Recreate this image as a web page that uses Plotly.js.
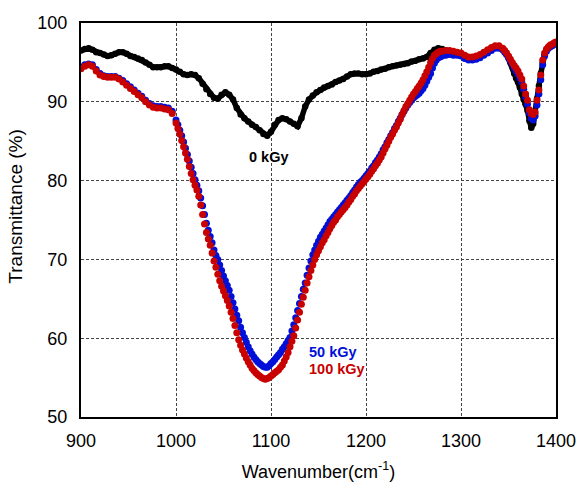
<!DOCTYPE html>
<html>
<head>
<meta charset="utf-8">
<script src="https://cdn.plot.ly/plotly-3.0.1.min.js"></script>
<style>
  html, body { margin: 0; padding: 0; background: #fff; }
  #chart { width: 578px; height: 482px; }
</style>
</head>
<body>
<div id="chart"></div>
<script>
// ---- Data: [wavenumber (cm-1), transmittance (%)] ----
const kGy0 = [
  [900,96.5],[904,96.7],[908,96.8],[912,96.6],[916,96.3],[920,96.2],[924,96.0],[928,95.8],
  [932,95.9],[936,96.1],[940,96.3],[944,96.3],[948,96.1],[952,95.8],[956,95.7],[960,95.5],
  [964,95.3],[968,95.0],[972,94.7],[976,94.4],[980,94.4],[984,94.4],[988,94.5],[992,94.5],
  [996,94.3],[1000,94.1],[1004,93.8],[1008,93.5],[1012,93.4],[1016,93.5],[1020,93.4],[1024,93.0],
  [1028,92.3],[1032,91.6],[1036,91.0],[1040,90.5],[1044,90.4],[1048,90.9],[1052,91.2],[1056,90.9],
  [1060,90.3],[1064,89.2],[1068,88.4],[1072,87.9],[1076,87.5],[1080,87.1],[1084,86.8],[1088,86.4],
  [1092,85.9],[1096,85.7],[1100,86.2],[1104,87.1],[1108,87.7],[1112,87.9],[1116,87.8],[1120,87.5],
  [1124,87.2],[1128,86.9],[1132,87.9],[1136,89.4],[1140,90.3],[1144,90.8],[1148,91.2],[1152,91.5],
  [1156,91.8],[1160,92.0],[1164,92.2],[1168,92.5],[1172,92.7],[1176,92.9],[1180,93.2],[1184,93.5],
  [1188,93.6],[1192,93.6],[1196,93.5],[1200,93.5],[1204,93.6],[1208,93.8],[1212,93.9],[1216,94.1],
  [1220,94.2],[1224,94.4],[1228,94.5],[1232,94.6],[1236,94.7],[1240,94.8],[1244,94.9],[1248,95.1],
  [1252,95.2],[1256,95.4],[1260,95.5],[1264,95.7],[1268,96.2],[1272,96.6],[1276,96.8],[1280,96.7],
  [1284,96.5],[1288,96.4],[1292,96.3],[1296,96.2],[1300,96.1],[1304,95.8],[1308,95.6],[1312,95.6],
  [1316,95.7],[1320,95.9],[1324,96.2],[1328,96.5],[1332,96.7],[1336,96.9],[1340,96.9],[1344,96.6],
  [1348,96.0],[1352,95.0],[1356,93.6],[1358,93.0],[1360,92.5],[1362,91.8],[1364,91.0],[1366,90.3],
  [1368,89.7],[1370,88.9],[1372,87.6],[1374,86.7],[1376,87.2],[1378,88.5],[1380,90.4],[1382,92.0],
  [1384,93.6],[1386,95.0],[1388,96.0],[1390,96.6],[1392,96.9],[1394,97.1],[1396,97.2],[1398,97.3],
  [1400,97.4]
];

const kGy50 = [
  [900,94.4],[904,94.7],[908,94.8],[912,94.7],[916,94.1],[920,93.6],[924,93.3],[928,93.2],
  [932,93.2],[936,93.2],[940,93.0],[944,92.7],[948,92.3],[952,91.9],[956,91.5],[960,91.1],
  [964,90.7],[968,90.2],[972,89.8],[976,89.5],[980,89.4],[984,89.4],[988,89.3],[992,89.2],
  [996,88.8],[1000,87.7],[1002,87.1],[1004,86.4],[1006,85.7],[1008,84.9],[1010,84.1],[1012,83.3],
  [1014,82.5],[1016,81.7],[1018,80.9],[1020,80.1],[1022,79.4],[1024,78.7],[1026,77.8],[1028,76.8],
  [1030,75.7],[1032,74.6],[1034,73.7],[1036,72.9],[1038,72.1],[1040,71.2],[1042,70.5],[1044,70.0],
  [1046,69.3],[1048,68.6],[1050,67.9],[1052,67.3],[1054,66.7],[1056,66.1],[1058,65.3],[1060,64.5],
  [1062,63.7],[1064,62.9],[1066,62.2],[1068,61.4],[1070,60.7],[1072,60.1],[1074,59.5],[1076,58.9],
  [1078,58.4],[1080,58.0],[1082,57.6],[1084,57.3],[1086,57.0],[1088,56.8],[1090,56.6],[1092,56.4],
  [1094,56.3],[1096,56.3],[1098,56.5],[1100,56.8],[1102,57.0],[1104,57.3],[1106,57.6],[1108,57.9],
  [1110,58.2],[1112,58.6],[1114,58.9],[1116,59.3],[1118,59.7],[1120,60.1],[1122,60.9],[1124,61.7],
  [1126,62.6],[1128,63.5],[1130,64.4],[1132,65.3],[1134,66.2],[1136,67.0],[1138,68.0],[1140,68.9],
  [1142,69.8],[1144,70.6],[1146,71.2],[1148,71.8],[1150,72.3],[1152,72.8],[1154,73.2],[1156,73.6],
  [1158,74.0],[1160,74.4],[1162,74.8],[1164,75.1],[1166,75.4],[1168,75.7],[1170,76.0],[1172,76.3],
  [1174,76.6],[1176,76.9],[1178,77.2],[1180,77.5],[1182,77.8],[1184,78.1],[1186,78.5],[1188,78.8],
  [1190,79.2],[1192,79.5],[1194,79.8],[1196,80.0],[1198,80.3],[1200,80.6],[1202,80.9],[1204,81.2],
  [1206,81.6],[1208,81.9],[1210,82.3],[1212,82.6],[1214,83.0],[1216,83.4],[1218,83.9],[1220,84.3],
  [1222,84.8],[1224,85.2],[1226,85.7],[1228,86.1],[1230,86.6],[1232,87.0],[1234,87.5],[1236,87.9],
  [1238,88.4],[1240,88.8],[1242,89.2],[1244,89.6],[1246,89.9],[1248,90.2],[1250,90.5],[1252,90.7],
  [1254,90.9],[1256,91.1],[1258,91.4],[1260,91.7],[1262,92.1],[1264,92.6],[1266,93.1],[1268,93.6],
  [1270,94.3],[1272,94.9],[1274,95.3],[1276,95.6],[1278,95.7],[1280,95.8],[1284,95.9],[1288,96.0],
  [1292,95.9],[1296,95.9],[1300,95.8],[1304,95.5],[1308,95.3],[1312,95.3],[1316,95.4],[1320,95.6],
  [1324,95.9],[1328,96.2],[1332,96.5],[1336,96.8],[1340,96.8],[1344,96.6],[1346,96.3],[1348,96.0],
  [1350,95.6],[1352,95.2],[1354,94.8],[1356,94.3],[1358,93.9],[1360,93.5],[1362,93.0],[1364,92.5],
  [1366,91.6],[1368,90.6],[1370,89.7],[1372,88.6],[1374,87.9],[1376,87.7],[1378,88.2],[1380,89.6],
  [1382,91.0],[1384,92.8],[1386,94.7],[1388,95.8],[1390,96.4],[1392,96.8],[1394,97.0],[1396,97.1],
  [1398,97.3],[1400,97.4]
];

const kGy100 = [
  [900,94.2],[904,94.5],[908,94.7],[912,94.5],[916,93.9],[920,93.4],[924,93.2],[928,93.1],
  [932,93.1],[936,93.1],[940,92.9],[944,92.5],[948,92.1],[952,91.7],[956,91.3],[960,90.9],
  [964,90.5],[968,90.0],[972,89.6],[976,89.3],[980,89.2],[984,89.2],[988,89.1],[992,89.0],
  [996,88.5],[1000,87.3],[1002,86.6],[1004,85.9],[1006,85.1],[1008,84.3],[1010,83.5],[1012,82.7],
  [1014,81.8],[1016,80.9],[1018,80.1],[1020,79.4],[1022,78.8],[1024,78.0],[1026,76.9],[1028,75.7],
  [1030,74.5],[1032,73.4],[1034,72.6],[1036,71.8],[1038,70.8],[1040,69.8],[1042,69.0],[1044,68.1],
  [1046,67.3],[1048,66.6],[1050,66.0],[1052,65.4],[1054,64.8],[1056,64.1],[1058,63.3],[1060,62.5],
  [1062,61.6],[1064,60.7],[1066,59.8],[1068,59.1],[1070,58.5],[1072,58.0],[1074,57.5],[1076,57.0],
  [1078,56.6],[1080,56.2],[1082,55.9],[1084,55.6],[1086,55.4],[1088,55.2],[1090,55.0],[1092,54.9],
  [1094,54.8],[1096,54.9],[1098,55.0],[1100,55.2],[1102,55.4],[1104,55.6],[1106,55.8],[1108,56.0],
  [1110,56.3],[1112,56.6],[1114,57.1],[1116,57.6],[1118,58.2],[1120,58.9],[1122,59.6],[1124,60.3],
  [1126,61.3],[1128,62.3],[1130,63.3],[1132,64.3],[1134,65.2],[1136,66.1],[1138,67.0],[1140,67.8],
  [1142,68.6],[1144,69.3],[1146,70.0],[1148,70.6],[1150,71.1],[1152,71.6],[1154,72.1],[1156,72.5],
  [1158,73.0],[1160,73.4],[1162,73.9],[1164,74.3],[1166,74.7],[1168,75.0],[1170,75.4],[1172,75.7],
  [1174,76.0],[1176,76.3],[1178,76.6],[1180,76.9],[1182,77.3],[1184,77.6],[1186,78.0],[1188,78.3],
  [1190,78.7],[1192,79.0],[1194,79.3],[1196,79.6],[1198,79.9],[1200,80.2],[1202,80.5],[1204,80.8],
  [1206,81.2],[1208,81.5],[1210,81.9],[1212,82.2],[1214,82.6],[1216,83.0],[1218,83.5],[1220,84.0],
  [1222,84.5],[1224,85.0],[1226,85.5],[1228,85.9],[1230,86.4],[1232,86.8],[1234,87.3],[1236,87.8],
  [1238,88.4],[1240,88.9],[1242,89.4],[1244,89.8],[1246,90.2],[1248,90.6],[1250,91.0],[1252,91.3],
  [1254,91.7],[1256,92.0],[1258,92.4],[1260,92.8],[1262,93.3],[1264,93.8],[1266,94.4],[1268,95.0],
  [1270,95.5],[1272,95.9],[1274,96.1],[1276,96.3],[1278,96.4],[1280,96.4],[1284,96.5],[1288,96.5],
  [1292,96.4],[1296,96.3],[1300,96.2],[1304,95.9],[1308,95.7],[1312,95.7],[1316,95.8],[1320,96.0],
  [1324,96.3],[1328,96.6],[1332,96.9],[1336,97.1],[1340,97.1],[1344,96.8],[1346,96.5],[1348,96.2],
  [1350,95.8],[1352,95.4],[1354,95.0],[1356,94.6],[1358,94.3],[1360,93.9],[1362,93.4],[1364,92.9],
  [1366,92.0],[1368,91.0],[1370,90.2],[1372,89.0],[1374,88.5],[1376,88.4],[1378,88.7],[1380,90.2],
  [1382,91.5],[1384,93.4],[1386,95.3],[1388,96.2],[1390,96.7],[1392,97.0],[1394,97.2],[1396,97.3],
  [1398,97.5],[1400,97.6]
];

const xTicks = [900, 1000, 1100, 1200, 1300, 1400];
const yTicks = [50, 60, 70, 80, 90, 100];
const labels = ["0 kGy", "50 kGy", "100 kGy"];

// ---- Build traces ----
const xs = d => d.map(p => p[0]);
const ys = d => d.map(p => p[1]);

const traces = [
  { x: xs(kGy0), y: ys(kGy0), mode: 'lines+markers', name: labels[0],
    line: { color: '#000000', width: 5.5 }, marker: { color: '#000000', size: 6.5 } },
  { x: xs(kGy50), y: ys(kGy50), mode: 'markers', name: labels[1],
    marker: { color: '#0010d8', size: 7 } },
  { x: xs(kGy100), y: ys(kGy100), mode: 'markers', name: labels[2],
    marker: { color: '#c80000', size: 7 } }
];

const FONT = 'Liberation Sans, Arial, sans-serif';

const layout = {
  width: 578, height: 482,
  margin: { l: 81, r: 22, t: 23, b: 65 },
  paper_bgcolor: '#ffffff', plot_bgcolor: '#ffffff',
  showlegend: false,
  font: { family: FONT, color: '#000' },
  xaxis: {
    range: [900, 1400], tickvals: xTicks, ticktext: xTicks.map(String),
    ticks: '', ticklabelstandoff: 6,
    showgrid: true, gridcolor: '#444', griddash: '3px,2px', gridwidth: 1,
    showline: true, linecolor: '#000', linewidth: 2, mirror: true,
    zeroline: false, tickfont: { size: 18, family: FONT, color: '#000' },
    title: { text: 'Wavenumber(cm<sup>-1</sup>)', font: { size: 18, family: FONT, color: '#000' }, standoff: 16 }
  },
  yaxis: {
    range: [50, 100], tickvals: yTicks, ticktext: yTicks.map(String),
    ticks: '', ticklabelstandoff: 8,
    showgrid: true, gridcolor: '#444', griddash: '3px,2px', gridwidth: 1,
    showline: true, linecolor: '#000', linewidth: 2, mirror: true,
    zeroline: false, tickfont: { size: 18, family: FONT, color: '#000' }
  },
  annotations: [
    { xref: 'paper', yref: 'paper', x: -0.138, y: 0.535, xanchor: 'center', yanchor: 'middle',
      textangle: -90, showarrow: false, text: 'Transmittance (%)',
      font: { size: 19, family: FONT, color: '#000' } },
    { x: 1074.5, y: 83.0, xanchor: 'left', yanchor: 'middle', showarrow: false,
      text: '<b>' + labels[0] + '</b>', font: { size: 14.5, family: FONT, color: '#000' } },
    { x: 1137.5, y: 58.3, xanchor: 'left', yanchor: 'middle', showarrow: false,
      text: '<b>' + labels[1] + '</b>', font: { size: 14.5, family: FONT, color: '#0010d8' } },
    { x: 1137.5, y: 56.1, xanchor: 'left', yanchor: 'middle', showarrow: false,
      text: '<b>' + labels[2] + '</b>', font: { size: 14.5, family: FONT, color: '#c80000' } }
  ]
};

Plotly.newPlot('chart', traces, layout, { displayModeBar: false, staticPlot: true });
</script>
</body>
</html>
